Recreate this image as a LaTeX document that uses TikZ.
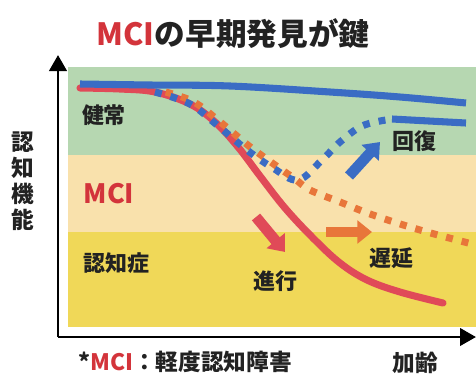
\documentclass[tikz,border=0pt]{standalone}
\usepackage{fontspec}
\setmainfont{Noto Sans CJK JP}
\usetikzlibrary{arrows.meta}
\definecolor{bandG}{HTML}{B6D7B1}
\definecolor{bandP}{HTML}{F9E1AC}
\definecolor{bandY}{HTML}{F0D858}
\definecolor{cBlue}{HTML}{3A6CC4}
\definecolor{cRed}{HTML}{E04A58}
\definecolor{cOrange}{HTML}{E8763A}
\definecolor{tRed}{HTML}{D3343B}
\definecolor{tDark}{HTML}{222222}
\begin{document}
\begin{tikzpicture}[x=0.75pt,y=-0.75pt,
  lab/.style={font=\bfseries\fontsize{16.5}{18}\selectfont, text=tDark, inner sep=0pt},
  curve/.style={line width=5.3pt, line cap=round},
  dotline/.style={line width=5.3pt, dash pattern=on 5.2pt off 6.8pt},
  fatarrow/.style={line width=8pt, -{Triangle[width=17pt,length=11pt]}},
  axis/.style={line width=2.2pt, -{Triangle[width=13pt,length=12pt]}}]
\useasboundingbox (0,0) rectangle (476,376);
% bands
\fill[bandG] (68,67) rectangle (476,155);
\fill[bandP] (68,155) rectangle (476,232);
\fill[bandY] (68,232) rectangle (476,327);
% axes
\coordinate (o) at (58,337);
\coordinate (ytip) at (58,55);
\coordinate (xtip) at (476,337);
\draw[axis] (o) -- (ytip);
\draw[axis] (o) -- (xtip);
% red curve
\draw[curve, cRed] plot[smooth, tension=0.6] coordinates {(80,88) (120,89) (155,92) (190,104) (215,122) (238,147) (260,176) (285,208) (313,238) (340,263) (367,280) (400,292) (443,303)};
% blue top line
\draw[curve, cBlue, line cap=butt] plot[smooth, tension=0.6] coordinates {(80,84) (150,85) (230,86) (330,92) (400,97) (466,103)};
% orange dotted
\draw[dotline, cOrange, dash phase=6pt] plot[smooth, tension=0.6] coordinates {(158,90) (192,101) (219,121) (249,146) (275,165) (295,179) (310,190) (340,202) (373,215) (420,230) (476,245)};
% blue dotted
\draw[dotline, cBlue] plot[smooth, tension=0.6] coordinates {(155,92) (190,104) (217,125) (247,150) (273,168) (298,180) (322,160) (340,142) (362,126) (386,120)};
\draw[line width=5.3pt, cBlue] (392,119) -- (466,123);
% arrows
\coordinate (rA) at (256,217); \coordinate (rB) at (285,252);
\coordinate (oA) at (326,232); \coordinate (oB) at (372,232);
\coordinate (bA) at (349,176); \coordinate (bB) at (380,142);
\draw[fatarrow, cRed] (rA) -- (rB);
\draw[fatarrow, cOrange] (oA) -- (oB);
\draw[fatarrow, cBlue] (bA) -- (bB);
% texts
\node[lab, font=\bfseries\fontsize{23}{25}\selectfont] (title) at (233,34) {\textcolor{tRed}{MCI}の早期発見が鍵};
\node[lab, font=\bfseries\fontsize{17}{19.5}\selectfont, align=center] (ylab) at (23,181) {認\\知\\機\\能};
\node[lab] (kenjo) at (104,115) {健常};
\node[lab, font=\bfseries\fontsize{20}{22}\selectfont, text=tRed] (mci) at (109,194) {MCI};
\node[lab] (ninchi) at (117,263) {認知症};
\node[lab] (shinko) at (275,281) {進行};
\node[lab] (chien) at (391,258) {遅延};
\node[lab] (kaifuku) at (414,141) {回復};
\node[lab, font=\bfseries\fontsize{17}{19}\selectfont] (note) at (185,362) {*\textcolor{tRed}{MCI}：軽度認知障害};
\node[lab, font=\bfseries\fontsize{17}{19}\selectfont] (karei) at (415,363) {加齢};
\end{tikzpicture}
\end{document}
